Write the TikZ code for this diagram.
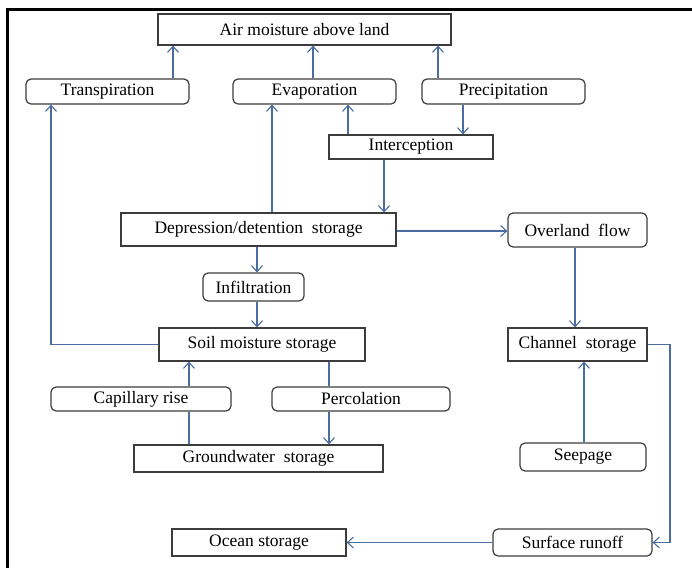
\documentclass[tikz,border=0pt]{standalone}
\usepackage{fontspec}
\setmainfont{Liberation Serif}
\usetikzlibrary{arrows.meta}
\definecolor{arrowblue}{HTML}{4A6CA0}
\definecolor{boxgray}{HTML}{3C3C3C}
\begin{document}
\begin{tikzpicture}[x=1pt,y=-1pt,
  box/.style={draw=boxgray, line width=1.2pt, inner sep=0pt, font=\fontsize{17.5}{19}\selectfont},
  rbox/.style={box, rounded corners=5pt},
  arr/.style={draw=arrowblue, line width=1.1pt, -{Straight Barb[length=6pt,width=11pt]}},
  ln/.style={draw=arrowblue, line width=1.1pt}]
\useasboundingbox (0,0) rectangle (692,567);
\draw[black, line width=2.5pt] (7.5,580) -- (7.5,9.5) -- (700,9.5);

\node[box, minimum width=293, minimum height=31] (air) at (304.5,29.5) {Air moisture above land};
\node[rbox, minimum width=163, minimum height=25] (trans) at (107.5,91.5) {Transpiration};
\node[rbox, minimum width=163, minimum height=25] (evap) at (314.5,91.5) {Evaporation};
\node[rbox, minimum width=163, minimum height=25] (precip) at (503.5,91.5) {Precipitation};
\node[box, minimum width=164, minimum height=24] (interc) at (411,147) {Interception};
\node[box, minimum width=275, minimum height=33] (dep) at (258.5,229.5) {Depression/detention\ \ storage};
\node[rbox, minimum width=139, minimum height=34] (over) at (577.5,230) {Overland\ \ flow\hspace{10pt}};
\node[rbox, minimum width=101, minimum height=28] (infil) at (253.5,287) {Infiltration};
\node[box, minimum width=206, minimum height=33] (soil) at (262,344.5) {Soil moisture storage};
\node[box, minimum width=139, minimum height=33] (chan) at (577.5,344.5) {Channel\ \ storage\hspace{10pt}};
\node[rbox, minimum width=180, minimum height=24] (cap) at (141,399) {Capillary rise};
\node[rbox, minimum width=178, minimum height=24] (perc) at (361,399) {Percolation};
\node[box, minimum width=249, minimum height=27] (gw) at (258.5,458.5) {Groundwater\ \ storage};
\node[rbox, minimum width=126, minimum height=28] (seep) at (583,457) {Seepage};
\node[rbox, minimum width=159, minimum height=27] (surf) at (572.5,542.5) {Surface runoff};
\node[box, minimum width=174, minimum height=27] (ocean) at (259,542.5) {Ocean storage};

\draw[arr] (trans.north -| 173,0) -- (air.south -| 173,0);
\draw[arr] (evap.north -| 313,0) -- (air.south -| 313,0);
\draw[arr] (precip.north -| 438,0) -- (air.south -| 438,0);
\draw[arr] (precip.south -| 463,0) -- (interc.north -| 463,0);
\draw[arr] (interc.north -| 348,0) -- (evap.south -| 348,0);
\draw[arr] (interc.south -| 384,0) -- (dep.north -| 384,0);
\draw[arr] (dep.north -| 272,0) -- (evap.south -| 272,0);
\draw[arr] (dep.east |- 0,231) -- (over.west |- 0,231);
\draw[arr] (over.south -| 575,0) -- (chan.north -| 575,0);
\draw[arr] (dep.south -| 257,0) -- (infil.north -| 257,0);
\draw[arr] (infil.south -| 257,0) -- (soil.north -| 257,0);
\coordinate (tl) at (51,0 |- trans.south);
\draw[arr] (soil.west) -| (tl);
\draw[arr] (cap.north -| 189,0) -- (soil.south -| 189,0);
\draw[ln] (gw.north -| 189,0) -- (cap.south -| 189,0);
\draw[ln] (soil.south -| 329,0) -- (perc.north -| 329,0);
\draw[arr] (perc.south -| 329,0) -- (gw.north -| 329,0);
\draw[arr] (seep.north -| 584,0) -- (chan.south -| 584,0);
\coordinate (cr) at (670,0 |- chan.east);
\draw[arr] (chan.east) -- (cr) |- (surf.east);
\draw[arr] (surf.west) -- (ocean.east);
\end{tikzpicture}
\end{document}
